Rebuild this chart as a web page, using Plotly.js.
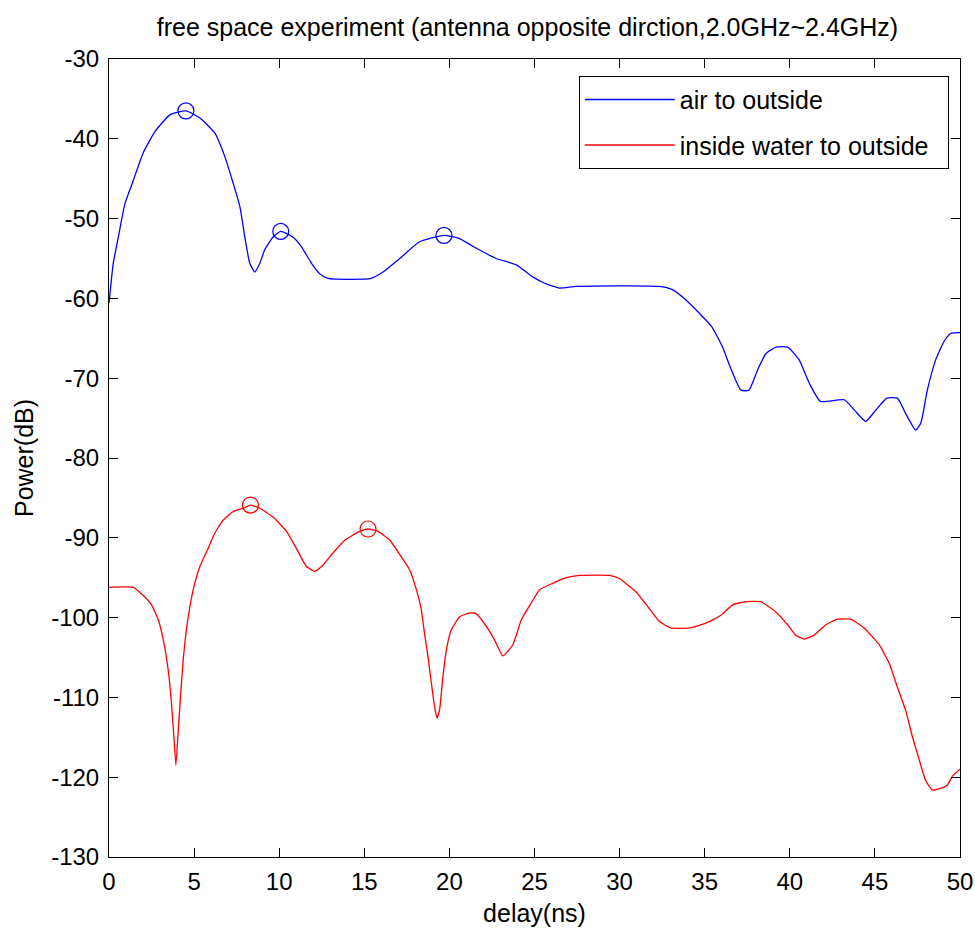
<!DOCTYPE html>
<html>
<head>
<meta charset="utf-8">
<script src="https://cdn.plot.ly/plotly-3.0.1.min.js"></script>
<style>html,body{margin:0;padding:0;background:#fff;}#chart{width:975px;height:938px;}</style>
</head>
<body>
<div id="chart"></div>
<script>
// Series: air to outside (blue)
const airX = [0, 0.25, 0.55, 0.94, 1.43, 2.0, 2.7, 3.58, 4.52, 5.34, 6.22, 6.8, 7.3, 7.69, 7.98, 8.27, 8.57, 8.86, 9.15, 9.64, 10.09, 10.8, 11.3, 11.9, 12.38, 12.87, 15.4, 16.1, 17.08, 18.25, 19.68, 20.6, 21.4, 22.75, 23.93, 24.9, 25.59, 26.47, 27.45, 32.3, 33.1, 33.9, 34.7, 35.4, 36.05, 36.5, 37.13, 37.6, 38.1, 38.6, 39.2, 39.87, 40.55, 41.14, 41.8, 43.2, 43.8, 44.46, 45.05, 45.7, 46.32, 46.8, 47.4, 47.7, 48.08, 48.57, 49.06, 49.45, 50];
const airY = [-60.6, -55.6, -52.3, -48.1, -45.2, -41.8, -39.1, -37.0, -36.5, -37.4, -39.3, -42.2, -45.6, -48.5, -52.3, -55.6, -56.7, -55.6, -53.9, -52.3, -51.6, -52.3, -53.5, -55.6, -56.9, -57.5, -57.5, -56.7, -55.0, -52.9, -52.1, -52.5, -53.5, -55.0, -55.8, -57.3, -58.1, -58.7, -58.5, -58.5, -58.9, -60.2, -61.9, -63.5, -66.1, -68.6, -71.5, -71.5, -69.0, -66.9, -66.1, -66.1, -67.7, -70.6, -72.9, -72.7, -74.0, -75.4, -74.0, -72.5, -72.5, -74.4, -76.5, -75.6, -71.5, -67.7, -65.4, -64.4, -64.3];
// Series: inside water to outside (red)
const waterX = [0, 1.43, 2.0, 2.5, 2.9, 3.19, 3.48, 3.67, 3.81, 3.93, 4.07, 4.2, 4.36, 4.6, 4.95, 5.34, 5.83, 6.22, 6.7, 7.3, 7.88, 8.31, 8.86, 9.64, 10.43, 11.0, 11.6, 12.09, 12.58, 13.16, 13.85, 14.73, 15.22, 15.8, 16.5, 17.18, 17.66, 18.06, 18.35, 18.54, 18.74, 18.94, 19.13, 19.27, 19.42, 19.62, 19.82, 20.1, 20.6, 21.2, 21.57, 22.17, 22.65, 23.14, 23.73, 24.22, 24.8, 25.3, 26.07, 26.86, 27.64, 29.4, 29.99, 30.97, 31.65, 32.34, 33.0, 34.1, 35.07, 35.96, 36.64, 37.42, 38.3, 39.18, 39.87, 40.35, 40.85, 41.43, 42.12, 42.8, 43.58, 44.37, 45.25, 45.83, 46.32, 46.8, 47.2, 47.6, 47.98, 48.37, 48.86, 49.25, 49.55, 50];
const waterY = [-96.2, -96.2, -97.2, -98.4, -100.3, -102.8, -106.6, -110.7, -114.9, -118.5, -114.1, -109.9, -105.3, -100.7, -96.5, -93.6, -91.3, -89.4, -87.8, -86.7, -86.3, -85.9, -86.3, -87.4, -89.2, -91.3, -93.6, -94.2, -93.4, -91.9, -90.3, -89.2, -88.9, -89.2, -90.3, -92.4, -94.0, -96.5, -99.0, -102.0, -104.9, -108.2, -111.2, -112.6, -111.6, -107.4, -104.1, -101.6, -99.9, -99.4, -99.5, -101.1, -102.8, -104.8, -103.4, -100.3, -98.2, -96.5, -95.7, -95.0, -94.7, -94.7, -95.1, -96.8, -98.6, -100.5, -101.3, -101.3, -100.7, -99.7, -98.4, -98.0, -98.0, -99.3, -100.9, -102.2, -102.7, -102.2, -100.9, -100.2, -100.2, -101.3, -103.4, -105.7, -108.7, -111.6, -114.9, -117.8, -120.4, -121.6, -121.4, -121.0, -119.9, -119.0];
// Peak markers
const airPeakX = [4.52, 10.09, 19.68];
const airPeakY = [-36.5, -51.6, -52.1];
const waterPeakX = [8.31, 15.22];
const waterPeakY = [-85.9, -88.9];
// Ticks
const xTicks = [0, 5, 10, 15, 20, 25, 30, 35, 40, 45, 50];
const yTicks = [-30, -40, -50, -60, -70, -80, -90, -100, -110, -120, -130];
// Legend names
const seriesNames = ['air to outside', 'inside water to outside'];

const FONT = 'Liberation Sans, Arial, sans-serif';
const PAD = '\u00a0\u00a0';
const traces = [
  {x: airX, y: airY, type: 'scatter', mode: 'lines', name: seriesNames[0] + PAD, legendgroup: 'a',
   line: {color: '#0000ff', width: 1.3, shape: 'spline', smoothing: 0.5}},
  {x: waterX, y: waterY, type: 'scatter', mode: 'lines', name: seriesNames[1] + PAD, legendgroup: 'b',
   line: {color: '#ff0000', width: 1.3, shape: 'spline', smoothing: 0.4}},
  {x: airPeakX, y: airPeakY, type: 'scatter', mode: 'markers', showlegend: false,
   marker: {symbol: 'circle-open', size: 16, color: '#0000ff', line: {width: 1.2, color: '#0000ff'}}},
  {x: waterPeakX, y: waterPeakY, type: 'scatter', mode: 'markers', showlegend: false,
   marker: {symbol: 'circle-open', size: 16, color: '#ff0000', line: {width: 1.2, color: '#ff0000'}}}
];
const axisCommon = {showline: true, linecolor: '#000', linewidth: 1, mirror: 'ticks', ticks: 'inside',
  ticklen: 9, tickcolor: '#000', showgrid: false, zeroline: false,
  tickfont: {family: FONT, size: 24, color: '#000'}};
const layout = {
  width: 975, height: 938,
  margin: {l: 109, r: 15, t: 59, b: 81},
  paper_bgcolor: '#fff', plot_bgcolor: '#fff',
  font: {family: FONT, color: '#000'},
  title: {text: 'free space experiment (antenna opposite dirction,2.0GHz~2.4GHz)',
    font: {family: FONT, size: 25, color: '#000'}, x: 0.541, xanchor: 'center', y: 0.971, yanchor: 'middle', yref: 'container'},
  xaxis: Object.assign({}, axisCommon, {range: [0, 50], tickvals: xTicks, ticktext: xTicks.map(String),
    ticklabelstandoff: 3,
    title: {text: 'delay(ns)', font: {family: FONT, size: 25, color: '#000'}, standoff: 10}}),
  yaxis: Object.assign({}, axisCommon, {range: [-130, -30], tickvals: yTicks, ticktext: yTicks.map(String),
    ticklabelstandoff: 4,
    title: {text: 'Power(dB)', font: {family: FONT, size: 25, color: '#000'}, standoff: 10}}),
  showlegend: true,
  legend: {x: 0.552, y: 0.979, xanchor: 'left', yanchor: 'top', bgcolor: '#fff', bordercolor: '#000', borderwidth: 1,
    font: {family: FONT, size: 25, color: '#000'}, itemwidth: 90, tracegroupgap: 10, traceorder: 'grouped'}
};
Plotly.newPlot('chart', traces, layout, {displayModeBar: false, staticPlot: true});
</script>
</body>
</html>
